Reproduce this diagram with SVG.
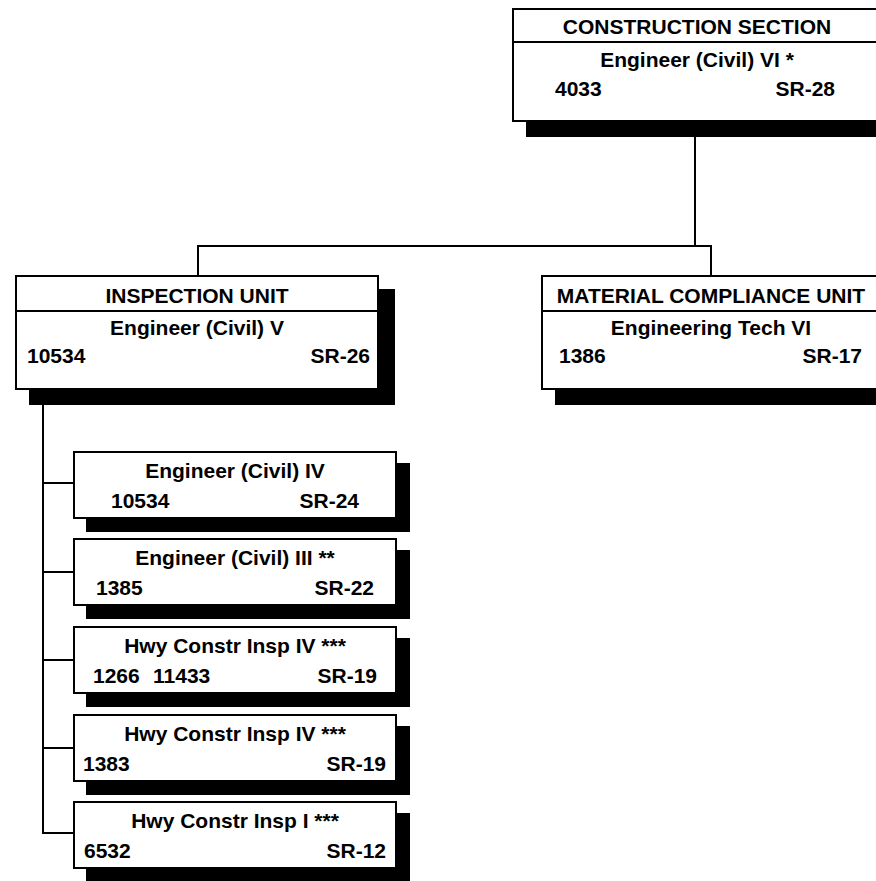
<svg xmlns="http://www.w3.org/2000/svg" width="876" height="881" viewBox="0 0 876 881">
<style>
.box{fill:#fff;stroke:#000;stroke-width:2}
.sh{fill:#000}
.div{stroke:#000;stroke-width:2}
.con{fill:none;stroke:#000;stroke-width:2}
text{font-family:"Liberation Sans",Arial,Helvetica,sans-serif;font-weight:bold;font-size:21px;fill:#000}
.c{text-anchor:middle}
.r{text-anchor:end}
</style>
<rect width="876" height="881" fill="#fff"/>
<g id="connectors">
<path class="con" d="M695,137 V246 M198,276 V246 H711 V276"/>
<path class="con" d="M43,405 V834 M43,483 H74 M43,572 H74 M43,660 H74 M43,748 H74 M43,833 H74"/>
</g>
<g id="construction">
<rect class="sh" x="526" y="22" width="370" height="115"/>
<rect class="box" x="513" y="9" width="370" height="112"/>
<line class="div" x1="513" y1="42" x2="883" y2="42"/>
<text class="c" x="697" y="34">CONSTRUCTION SECTION</text>
<text class="c" x="697" y="67">Engineer (Civil) VI *</text>
<text x="555" y="96">4033</text>
<text class="r" x="835" y="96">SR-28</text>
</g>
<g id="inspection">
<rect class="sh" x="29" y="289" width="366" height="116"/>
<rect class="box" x="16" y="276" width="362" height="113"/>
<line class="div" x1="16" y1="311" x2="378" y2="311"/>
<text class="c" x="197" y="303">INSPECTION UNIT</text>
<text class="c" x="197" y="335">Engineer (Civil) V</text>
<text x="27" y="363">10534</text>
<text class="r" x="370" y="363">SR-26</text>
</g>
<g id="material">
<rect class="sh" x="555" y="289" width="340" height="116"/>
<rect class="box" x="542" y="276" width="340" height="113"/>
<line class="div" x1="542" y1="311" x2="882" y2="311"/>
<text class="c" x="711" y="303">MATERIAL COMPLIANCE UNIT</text>
<text class="c" x="711" y="335">Engineering Tech VI</text>
<text x="559" y="363">1386</text>
<text class="r" x="862" y="363">SR-17</text>
</g>
<g id="eng4">
<rect class="sh" x="86" y="463" width="324" height="69"/>
<rect class="box" x="74" y="452" width="322" height="66"/>
<text class="c" x="235" y="478">Engineer (Civil) IV</text>
<text x="111" y="508">10534</text>
<text class="r" x="359" y="508">SR-24</text>
</g>
<g id="eng3">
<rect class="sh" x="86" y="550" width="324" height="69"/>
<rect class="box" x="74" y="539" width="322" height="66"/>
<text class="c" x="235" y="565">Engineer (Civil) III **</text>
<text x="96" y="595">1385</text>
<text class="r" x="374" y="595">SR-22</text>
</g>
<g id="hwy4a">
<rect class="sh" x="86" y="638" width="324" height="69"/>
<rect class="box" x="74" y="627" width="322" height="66"/>
<text class="c" x="235" y="653">Hwy Constr Insp IV ***</text>
<text x="93" y="683">1266</text>
<text x="153" y="683">11433</text>
<text class="r" x="377" y="683">SR-19</text>
</g>
<g id="hwy4b">
<rect class="sh" x="86" y="726" width="324" height="69"/>
<rect class="box" x="74" y="715" width="322" height="66"/>
<text class="c" x="235" y="741">Hwy Constr Insp IV ***</text>
<text x="83" y="771">1383</text>
<text class="r" x="386" y="771">SR-19</text>
</g>
<g id="hwy1">
<rect class="sh" x="86" y="813" width="324" height="69"/>
<rect class="box" x="74" y="802" width="322" height="66"/>
<text class="c" x="235" y="828">Hwy Constr Insp I ***</text>
<text x="84" y="858">6532</text>
<text class="r" x="386" y="858">SR-12</text>
</g>
</svg>
